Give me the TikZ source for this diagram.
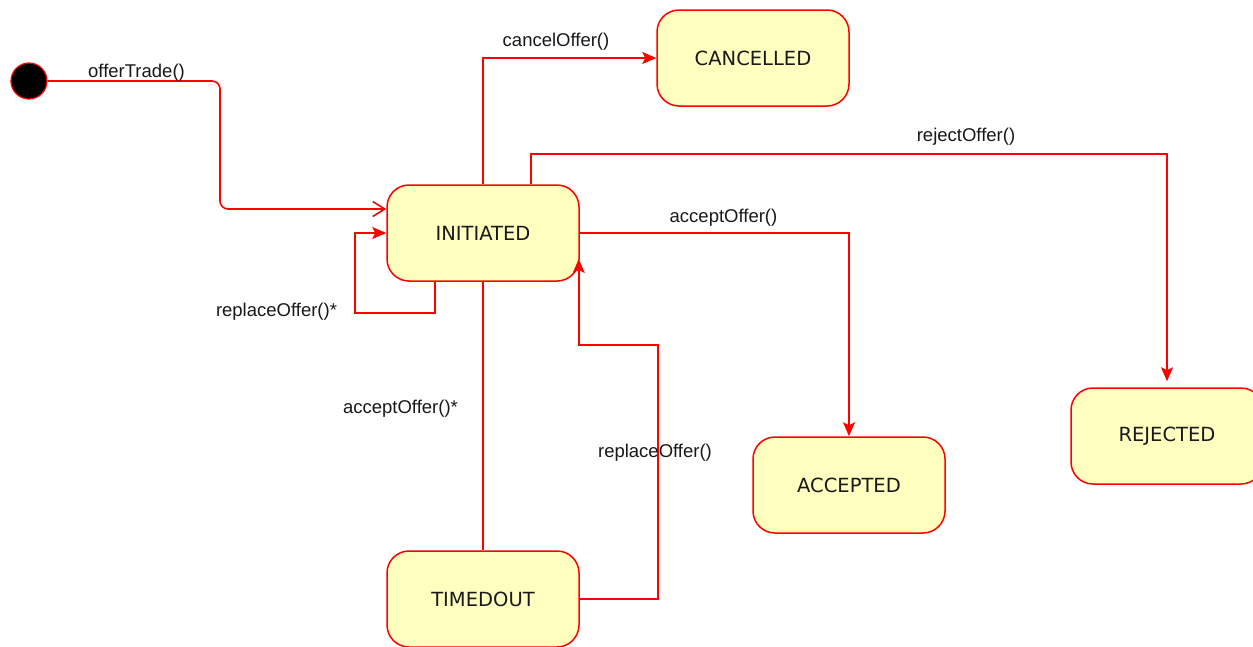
\documentclass[tikz,border=0pt]{standalone}
\usepackage{fontspec}
\setmainfont{Liberation Sans}
\newfontfamily\statefont{DejaVu Sans}
\usetikzlibrary{arrows.meta}
\definecolor{stfill}{HTML}{FFFFC0}
\definecolor{lnred}{HTML}{FF0000}
\begin{document}
\begin{tikzpicture}[x=1pt,y=-1pt,
  state/.style={rectangle, rounded corners=22pt, draw=lnred, fill=stfill, line width=1.5pt,
    minimum width=192pt, minimum height=96pt, inner sep=0pt,
    font=\statefont\fontsize{19.5}{23}\selectfont, text=black!90},
  lbl/.style={font=\fontsize{18.5}{22}\selectfont, inner sep=0pt, text=black!90},
  conn/.style={draw=lnred, line width=1.6pt},
  arr/.style={conn, -{Stealth[length=14pt,width=12pt,inset=3pt]}},
  openarr/.style={conn, -{Straight Barb[length=12pt,width=15pt]}}]
\useasboundingbox (0,0) rectangle (1253,646);
\fill[white] (0,0) rectangle (1253,646);

% states
\node[circle, fill=black, draw=lnred, line width=1.2pt, minimum size=36pt, inner sep=0pt] (start) at (29,81) {};
\node[state] (init) at (483,233) {INITIATED};
\node[state] (canc) at (753,58) {CANCELLED};
\node[state] (acc) at (849,485) {ACCEPTED};
\node[state] (rej) at (1167,436) {REJECTED};
\node[state] (tim) at (483,599) {TIMEDOUT};

% helper coordinates
\coordinate (bend) at (220,150);
\coordinate (rj) at (531,154);
\coordinate (lp) at (355,313);
\coordinate (rp) at (658,345);

% connectors
\draw[openarr, rounded corners=8pt] (start.east) -| (bend) |- ([yshift=24pt]init.west);
\draw[arr] (init.north) |- (canc.west);
\draw[arr, shorten >=6pt] (rj |- init.north) -- (rj) -| (rej.north);
\draw[arr] (init.east) -| (acc.north);
\draw[arr] ([xshift=-48pt]init.south) |- (lp) |- (init.west);
\draw[conn] (tim.north) -- (init.south);
\draw[arr] (tim.east) -| (rp) -| ([xshift=-1pt,yshift=-26pt]init.east);

% labels
\node[lbl] (l1) at (136.5,73) {offerTrade()};
\node[lbl] (l2) at (556,42) {cancelOffer()};
\node[lbl] (l3) at (966,137) {rejectOffer()};
\node[lbl] (l4) at (723.5,218) {acceptOffer()};
\node[lbl] (l5) at (276.5,312) {replaceOffer()*};
\node[lbl] (l6) at (400.5,409) {acceptOffer()*};
\node[lbl] (l7) at (655,453) {replaceOffer()};
\end{tikzpicture}
\end{document}
